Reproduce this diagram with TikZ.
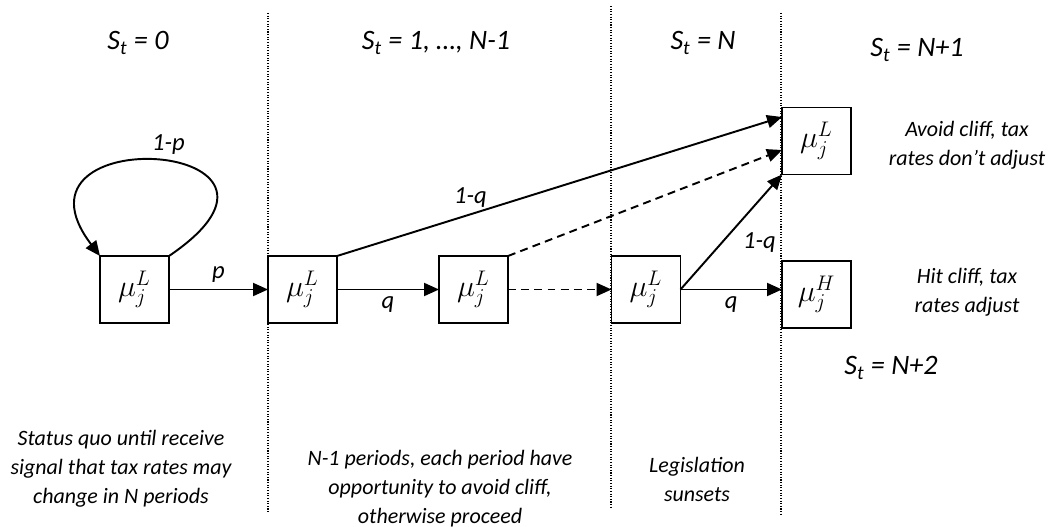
\documentclass[tikz,border=0pt]{standalone}
\usepackage{fontspec}
\setmainfont{Carlito}
\usetikzlibrary{arrows.meta,positioning}

\begin{document}
\begin{tikzpicture}[
  x=0.02cm, y=-0.02cm,
  state/.style={draw, line width=1.1pt, minimum width=1.38cm, minimum height=1.34cm,
    inner sep=0pt, outer sep=0pt, fill=white, font=\fontsize{17.28}{20}\selectfont},
  arrow/.style={-{Triangle[length=0.3cm, width=0.26cm]}, line width=1.1pt},
  darrow/.style={arrow, dash pattern=on 4.5pt off 3pt},
  divider/.style={line width=0.8pt, dash pattern=on 0.6pt off 0.9pt},
  header/.style={font=\fontsize{16}{19}\selectfont\itshape},
  note/.style={align=center, font=\fontsize{12.5}{16.5}\selectfont\itshape},
  prob/.style={font=\fontsize{14}{16}\selectfont\itshape},
]
  \useasboundingbox (0,0) rectangle (1054,527);

  % Period dividers
  \draw[divider] (268,13) -- (268,513);
  \draw[divider] (611,6) -- (611,508);
  \draw[divider] (781,13) -- (781,515);

  % Headers
  \node[header] (hdr0) at (138,43) {S\textsubscript{t} = 0};
  \node[header] (hdr1) at (436,43) {S\textsubscript{t} = 1, …, N-1};
  \node[header] (hdrN) at (703,43) {S\textsubscript{t} = N};
  \node[header] (hdrN1) at (917,50) {S\textsubscript{t} = N+1};
  \node[header] (hdrN2) at (891,368) {S\textsubscript{t} = N+2};

  % States
  \node[state] (s0) at (134.5,289.5) {$\mu_j^L$};
  \node[state] (s1) at (302.5,289.5) {$\mu_j^L$};
  \node[state] (s2) at (473.5,289.5) {$\mu_j^L$};
  \node[state] (sN) at (646,289.5) {$\mu_j^L$};
  \node[state] (top) at (816.5,141) {$\mu_j^L$};
  \node[state] (hit) at (816.5,294.5) {$\mu_j^H$};

  % Transitions
  \draw[arrow] (s0.north east) .. controls (340,140) and (-5,118) .. (s0.north west)
    node[prob, pos=0.47, above] {1-p};
  \draw[arrow] (s0) -- node[prob, above] {p} (s1);
  \draw[arrow] (s1) -- node[prob, below] {q} (s2);
  \draw[arrow] (s1.north east) -- node[prob, pos=0.3, above] {1-q} ([yshift=0.48cm]top.west);
  \draw[darrow] (s2) -- (sN);
  \draw[darrow] (s2.north east) -- ([yshift=-0.18cm]top.west);
  \draw[arrow] (sN.east) -- node[prob, pos=0.55, below right] {1-q} (top.south west);
  \draw[arrow] (sN.east) -- node[prob, below] {q} (hit.west |- sN.east);

  % Outcome notes
  \node[note] (avoid) at (967,145) {Avoid cliff, tax\\rates don’t adjust};
  \node[note] (hitnote) at (967,292) {Hit cliff, tax\\rates adjust};

  % Period notes
  \node[note] (note0) at (121,469) {Status quo until receive\\signal that tax rates may\\change in N periods};
  \node[note] (note1) at (440,489) {N-1 periods, each period have\\opportunity to avoid cliff,\\otherwise proceed};
  \node[note] (noteN) at (697,479) {Legislation\\sunsets};
\end{tikzpicture}
\end{document}
